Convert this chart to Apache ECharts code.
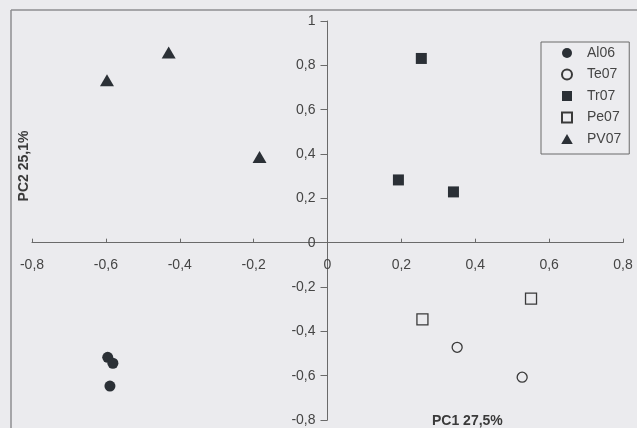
<!DOCTYPE html>
<html>
<head>
<meta charset="utf-8">
<script src="https://cdn.jsdelivr.net/npm/echarts@6/dist/echarts.min.js"></script>
<style>
html,body{margin:0;padding:0;background:#ebebee;}
#c{width:637px;height:428px;}
</style>
</head>
<body>
<div id="c"></div>
<script>
var seriesNames = ['Al06', 'Te07', 'Tr07', 'Pe07', 'PV07'];
var al06 = [[-0.595, -0.517], [-0.581, -0.544], [-0.589, -0.647]];
var te07 = [[0.351, -0.472], [0.527, -0.607]];
var tr07 = [[0.254, 0.831], [0.192, 0.283], [0.341, 0.229]];
var pe07 = [[0.257, -0.346], [0.551, -0.252]];
var pv07 = [[-0.597, 0.733], [-0.43, 0.858], [-0.184, 0.387]];
var xTitle = 'PC1 27,5%';
var yTitle = 'PC2 25,1%';

function fmt(v) {
  var r = Math.round(v * 10) / 10;
  if (r === 0) r = 0;
  return String(r).replace('.', ',');
}

var dark = '#2b3036';
var textColor = '#454545';
var font = 'Liberation Sans, Arial, sans-serif';

var W = 637, H = 428;
var gL = 32, gR = 14, gT = 21, gB = 8;
var xMin = -0.8, xMax = 0.8, yMin = -0.8, yMax = 1;
var gw = W - gL - gR, gh = H - gT - gB;
// offsets that move the axes onto the zero lines
var xOff = -(gh * (0 - yMin) / (yMax - yMin));
var yOff = -(gw * (0 - xMin) / (xMax - xMin));

var squarePath = 'path://M0,0L10,0L10,10L0,10Z';
var triPath = 'path://M6,0L12,10.4L0,10.4Z';

var chart = echarts.init(document.getElementById('c'));
chart.setOption({
  backgroundColor: '#ebebee',
  animation: false,
  grid: { left: gL, right: gR, top: gT, bottom: gB, containLabel: false, outerBoundsMode: 'none' },
  xAxis: {
    type: 'value', min: xMin, max: xMax, interval: 0.2, position: 'bottom', offset: xOff,
    axisLine: { onZero: false, lineStyle: { color: '#6a6a6a', width: 1 } },
    axisTick: { show: true, inside: true, length: 4, lineStyle: { color: '#6a6a6a' } },
    axisLabel: { formatter: fmt, margin: 15, color: textColor, fontSize: 14, fontFamily: font },
    splitLine: { show: false }
  },
  yAxis: {
    type: 'value', min: yMin, max: yMax, interval: 0.2, position: 'left', offset: yOff,
    axisLine: { onZero: false, lineStyle: { color: '#6a6a6a', width: 1 } },
    axisTick: { show: true, inside: false, length: 7, lineStyle: { color: '#6a6a6a' } },
    axisLabel: { formatter: fmt, margin: 12, color: textColor, fontSize: 14, fontFamily: font },
    splitLine: { show: false }
  },
  legend: {
    orient: 'vertical',
    left: 541, top: 42,
    padding: [4, 8, 8, 20],
    itemWidth: 30, itemHeight: 10, itemGap: 7.5,
    symbolKeepAspect: true,
    borderColor: '#6a6a6a', borderWidth: 1,
    backgroundColor: '#ececef',
    textStyle: { color: textColor, fontSize: 14, fontFamily: font },
    data: [
      { name: seriesNames[0], icon: 'circle' },
      { name: seriesNames[1], icon: 'circle' },
      { name: seriesNames[2], icon: squarePath },
      { name: seriesNames[3], icon: squarePath },
      { name: seriesNames[4], icon: triPath }
    ]
  },
  graphic: [
    { type: 'line', shape: { x1: 11, y1: 10, x2: 637, y2: 10 }, style: { stroke: '#8e8e90', lineWidth: 1.5 } },
    { type: 'line', shape: { x1: 11, y1: 10, x2: 11, y2: 428 }, style: { stroke: '#8e8e90', lineWidth: 1.5 } },
    { type: 'text', left: 432, top: 414, style: { text: xTitle, fill: '#3a3a3a', font: 'bold 14px ' + font } },
    { type: 'text', x: 24, y: 166, rotation: Math.PI / 2, style: { text: yTitle, fill: '#3a3a3a', font: 'bold 14px ' + font, align: 'center', verticalAlign: 'middle' } }
  ],
  series: [
    { name: seriesNames[0], type: 'scatter', data: al06, symbol: 'circle', symbolSize: 11,
      itemStyle: { color: dark, opacity: 1 } },
    { name: seriesNames[1], type: 'scatter', data: te07, symbol: 'circle', symbolSize: 10,
      itemStyle: { color: 'rgba(0,0,0,0)', borderColor: '#3a3a3a', borderWidth: 1.3, opacity: 1 } },
    { name: seriesNames[2], type: 'scatter', data: tr07, symbol: 'rect', symbolSize: 11,
      itemStyle: { color: dark, opacity: 1 } },
    { name: seriesNames[3], type: 'scatter', data: pe07, symbol: 'rect', symbolSize: 11,
      itemStyle: { color: 'rgba(0,0,0,0)', borderColor: '#3a3a3a', borderWidth: 1.3, opacity: 1 } },
    { name: seriesNames[4], type: 'scatter', data: pv07, symbol: 'triangle', symbolSize: [14, 12],
      itemStyle: { color: dark, opacity: 1 } }
  ]
});
</script>
</body>
</html>
